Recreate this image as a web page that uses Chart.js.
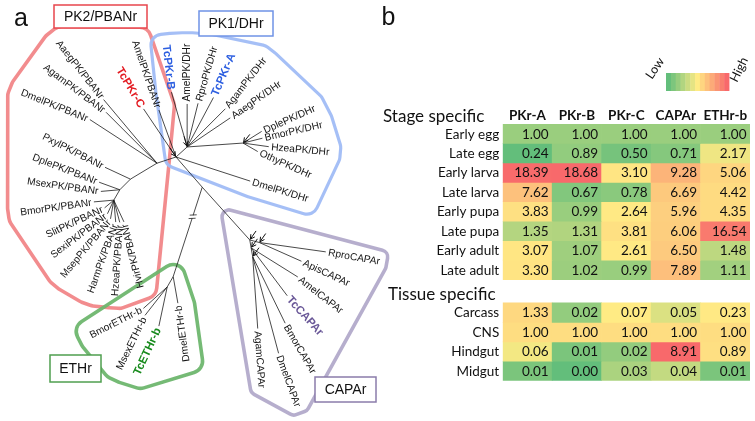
<!DOCTYPE html>
<html><head><meta charset="utf-8">
<script src="https://cdn.jsdelivr.net/npm/chart.js@4.4.0/dist/chart.umd.min.js"></script>
<style>
html,body{margin:0;padding:0;background:#fff;}
#wrap{position:relative;width:755px;height:421px;overflow:hidden;background:#fff;}
#tree{position:absolute;left:0;top:0;width:420px;height:421px;}
#heat{position:absolute;left:380px;top:0;width:375px;height:421px;}
</style></head><body>
<div id="wrap"><div id="tree"><canvas id="c1" width="420" height="421"></canvas></div><div id="heat"><canvas id="c2" width="375" height="421"></canvas></div></div>
<script>
// ================= DATA: heat map =================
const genes = ['PKr-A','PKr-B','PKr-C','CAPAr','ETHr-b'];
const stageRows = ['Early egg','Late egg','Early larva','Late larva','Early pupa','Late pupa','Early adult','Late adult'];
const tissueRows = ['Carcass','CNS','Hindgut','Midgut'];
const stageValues = [
 [1.00,1.00,1.00,1.00,1.00],
 [0.24,0.89,0.50,0.71,2.17],
 [18.39,18.68,3.10,9.28,5.06],
 [7.62,0.67,0.78,6.69,4.42],
 [3.83,0.99,2.64,5.96,4.35],
 [1.35,1.31,3.81,6.06,16.54],
 [3.07,1.07,2.61,6.50,1.48],
 [3.30,1.02,0.99,7.89,1.11]];
const tissueValues = [
 [1.33,0.02,0.07,0.05,0.23],
 [1.00,1.00,1.00,1.00,1.00],
 [0.06,0.01,0.02,8.91,0.89],
 [0.01,0.00,0.03,0.04,0.01]];

// ================= DATA: tree =================
const treeNodeNames   = ['J','P2','P1','K','Cm','C','C0','C2','C3','E','E2','L','Q1','Q2','N'];
const treeNodeParents = [null,'J','J','J','K','Cm','C','C','C2','K','E','P1','P2','Q1','Q2'];
const treeNodeAngles  = [0,162,-42,49,48,48,15,80,80,108,120,-4,149,135,120];
const treeNodeLengths = [0,20,15,40,40,31,10,8,9,94,12,56,31,15,12];

const tipNames = ['AmelPK/PBANr','TcPKr-C','AaegPK/PBANr','AgamPK/PBANr','DmelPK/PBANr','PxylPK/PBANr','DplePK/PBANr','MsexPK/PBANr','BmorPK/PBANr','SlitPK/PBANr','SexiPK/PBANr','MsepPK/PBANr','HarmPK/PBANr','HzeaPK/PBANr','HvirPK/PBANr',
 'TcPKr-B','AmelPK/DHr','RproPK/DHr','TcPKr-A','AgamPK/DHr','AaegPK/DHr','DplePK/DHr','BmorPK/DHr','HzeaPK/DHr','OthyPK/DHr','DmelPK/DHr',
 'BmorETHr-b','MsexETHr-b','TcETHr-b','DmelETHr-b',
 'RproCAPAr','ApisCAPAr','AmelCAPAr','TcCAPAr','BmorCAPAr','DmelCAPAr','AgamCAPAr'];
const tipParents = ['J','J','P2','P2','P2','Q1','Q2','Q2','N','N','N','N','N','N','N',
 'P1','P1','P1','P1','P1','P1','L','L','L','L','J',
 'E2','E2','E2','E',
 'C0','C0','C2','C2','C3','C3','C3'];
const tipAngles = [-110,-124,-130,-135,-147,-155,-160,175,175,140,115,100,85,75,65,
 -106,-90,-76,-62,-45,-34,-32,-14,8,30,18,
 138,128,102,80,
 8,24,32,53,64,75,86];
const tipLengths = [50,58,83,72,80,28,22,19,20,12,15,19,22,23,24,
 57,43,45,56,54,52,22,20,26,17,78,
 32,36,40,27,
 67,46,55,60,74,100,72];
const tipTextAngles = [71,59,52,37,22,27,21,8,-8,-25,-37,-50,-70,-86,-104,
 84,-90,-74,-67,-52,-35,-24,-13,5,24,17,
 -27,-64,-65,-98,
 10,25,38,48,60,70,86];
const tipClades = [0,0,0,0,0,0,0,0,0,0,0,0,0,0,0, 1,1,1,1,1,1,1,1,1,1,1, 2,2,2,2, 3,3,3,3,3,3,3];
const cladeNames = ['PK2/PBANr','PK1/DHr','ETHr','CAPAr'];
const cladeInnerNodes = [['P2','Q1','Q2','N'],['J','P1','L'],['E','E2'],['Cm','C','C0','C2','C3']];
const arrowNodes = ['J','P1','L','C','C0','C2','C3'];
const arrowDirs  = [56,74,128,125,125,125,125];

// ================= styling =================
const highlight = {'TcPKr-C':'#e31b22','TcPKr-B':'#2c5ee0','TcPKr-A':'#2c5ee0','TcETHr-b':'#178a1c','TcCAPAr':'#6a5898'};
const hullStyle = [
 {color:'rgba(240,120,122,0.85)', width:3.6, pad:12},
 {color:'rgba(160,188,245,0.95)', width:3.2, pad:11},
 {color:'rgba(110,182,110,0.95)', width:3.6, pad:12},
 {color:'rgba(178,170,202,0.95)', width:3.6, pad:7}];
const boxStyle = [
 {x:54,y:5,w:93,h:23,color:'#e8464c'},
 {x:199,y:11,w:74,h:25,color:'#6f93e6'},
 {x:50,y:355,w:51,h:27,color:'#4f9f4f'},
 {x:315,y:377,w:61,h:25,color:'#8b7cab'}];
const TREE_FONT = '"Liberation Sans", Arial, sans-serif';
const HEAT_FONT = 'Lato, "Open Sans", sans-serif';

// ================= tree geometry =================
const pos = {};
treeNodeNames.forEach((n,i)=>{
  const p = treeNodeParents[i];
  if(!p){pos[n]={x:0,y:0};return;}
  const a = treeNodeAngles[i]*Math.PI/180;
  pos[n] = {x:pos[p].x+treeNodeLengths[i]*Math.cos(a), y:pos[p].y+treeNodeLengths[i]*Math.sin(a)};
});
const tipPos = tipNames.map((n,i)=>{
  const p = pos[tipParents[i]], a = tipAngles[i]*Math.PI/180;
  return {x:p.x+tipLengths[i]*Math.cos(a), y:p.y+tipLengths[i]*Math.sin(a)};
});
const branchSets = [];
treeNodeNames.forEach((n,i)=>{ if(treeNodeParents[i]) branchSets.push([pos[treeNodeParents[i]], pos[n]]); });
tipNames.forEach((n,i)=> branchSets.push([pos[tipParents[i]], tipPos[i]]));

function labelInfo(ctx,i,tp){
  const name = tipNames[i], hl = highlight[name];
  const font = hl ? 'bold 11.5px '+TREE_FONT : '10.2px '+TREE_FONT;
  ctx.font = font;
  const w = ctx.measureText(name).width;
  const r = tipTextAngles[i]*Math.PI/180, o = tipAngles[i]*Math.PI/180;
  const dot = Math.cos(r)*Math.cos(o)+Math.sin(r)*Math.sin(o);
  const align = dot>=0 ? 'left':'right';
  const gap = 2.5;
  const s0 = align==='left' ? gap : -gap-w, s1 = s0+w;
  const u = {x:Math.cos(r),y:Math.sin(r)}, v = {x:-Math.sin(r),y:Math.cos(r)};
  const h = 4.5;
  const corners = [];
  [s0,s1].forEach(s=>[-h,h].forEach(t=>corners.push({x:tp.x+s*u.x+t*v.x, y:tp.y+s*u.y+t*v.y})));
  return {name,font,w,r,align,gap,color:hl||'#151515',corners};
}
function convexHull(pts){
  pts = pts.slice().sort((a,b)=>a.x-b.x||a.y-b.y);
  const cross=(o,a,b)=>(a.x-o.x)*(b.y-o.y)-(a.y-o.y)*(b.x-o.x);
  const lower=[];for(const p of pts){while(lower.length>=2&&cross(lower[lower.length-2],lower[lower.length-1],p)<=0)lower.pop();lower.push(p);}
  const upper=[];for(const p of pts.slice().reverse()){while(upper.length>=2&&cross(upper[upper.length-2],upper[upper.length-1],p)<=0)upper.pop();upper.push(p);}
  upper.pop();lower.pop();
  let h = lower.concat(upper);
  let area=0;for(let i=0;i<h.length;i++){const a=h[i],b=h[(i+1)%h.length];area+=a.x*b.y-b.x*a.y;}
  if(area<0) h.reverse();
  return h;
}
function roundedHull(ctx,h,r){
  const n=h.length; ctx.beginPath();
  for(let i=0;i<n;i++){
    const prev=h[(i-1+n)%n], cur=h[i], next=h[(i+1)%n];
    const a1=Math.atan2(-(cur.x-prev.x), cur.y-prev.y);
    const a2=Math.atan2(-(next.x-cur.x), next.y-cur.y);
    ctx.arc(cur.x,cur.y,r,a1,a2,false);
  }
  ctx.closePath();
}

const treePlugin = {
  id:'treeDecor',
  beforeDatasetsDraw(chart){
    const ctx=chart.ctx, xs=chart.scales.x, ys=chart.scales.y;
    const P = p=>({x:xs.getPixelForValue(p.x), y:ys.getPixelForValue(p.y)});
    ctx.save();
    cladeNames.forEach((c,ci)=>{
      const pts=[];
      tipNames.forEach((n,i)=>{ if(tipClades[i]!==ci) return; const tp=P(tipPos[i]); pts.push(tp); labelInfo(ctx,i,tp).corners.forEach(q=>pts.push(q)); });
      cladeInnerNodes[ci].forEach(n=>pts.push(P(pos[n])));
      const h=convexHull(pts);
      roundedHull(ctx,h,hullStyle[ci].pad);
      ctx.strokeStyle=hullStyle[ci].color; ctx.lineWidth=hullStyle[ci].width; ctx.lineJoin='round';
      ctx.stroke();
    });
    ctx.restore();
  },
  afterDatasetsDraw(chart){
    const ctx=chart.ctx, xs=chart.scales.x, ys=chart.scales.y;
    const P = p=>({x:xs.getPixelForValue(p.x), y:ys.getPixelForValue(p.y)});
    ctx.save();
    // break mark on the K-E branch
    const k=P(pos.K), e=P(pos.E), t=0.33;
    const m={x:k.x+(e.x-k.x)*t, y:k.y+(e.y-k.y)*t};
    const ba=Math.atan2(e.y-k.y,e.x-k.x);
    const bu={x:Math.cos(ba),y:Math.sin(ba)};
    ctx.strokeStyle='#fff'; ctx.lineWidth=2.5;
    ctx.beginPath(); ctx.moveTo(m.x-bu.x*1.5,m.y-bu.y*1.5); ctx.lineTo(m.x+bu.x*1.5,m.y+bu.y*1.5); ctx.stroke();
    ctx.strokeStyle='#222'; ctx.lineWidth=0.8;
    [-1.8,1.8].forEach(off=>{
      const c={x:m.x+bu.x*off,y:m.y+bu.y*off}, ta=ba+Math.PI/2.6;
      ctx.beginPath(); ctx.moveTo(c.x-Math.cos(ta)*3.5,c.y-Math.sin(ta)*3.5); ctx.lineTo(c.x+Math.cos(ta)*3.5,c.y+Math.sin(ta)*3.5); ctx.stroke();
    });
    // arrows
    arrowNodes.forEach((n,i)=>{
      const hp=P(pos[n]), a=arrowDirs[i]*Math.PI/180;
      const head={x:hp.x-Math.cos(a)*1, y:hp.y-Math.sin(a)*1};
      const tail={x:head.x-Math.cos(a)*10, y:head.y-Math.sin(a)*10};
      ctx.strokeStyle='#111'; ctx.lineWidth=1;
      ctx.beginPath(); ctx.moveTo(tail.x,tail.y); ctx.lineTo(head.x,head.y); ctx.stroke();
      ctx.beginPath();
      [0.5,-0.5].forEach(d=>{ctx.moveTo(head.x,head.y); ctx.lineTo(head.x-Math.cos(a+d)*5, head.y-Math.sin(a+d)*5);});
      ctx.stroke();
    });
    // tip labels
    tipNames.forEach((n,i)=>{
      const tp=P(tipPos[i]); const L=labelInfo(ctx,i,tp);
      ctx.save(); ctx.translate(tp.x,tp.y); ctx.rotate(L.r);
      ctx.font=L.font; ctx.fillStyle=L.color; ctx.textAlign=L.align; ctx.textBaseline='middle';
      ctx.fillText(n, L.align==='left'?L.gap:-L.gap, 0.5);
      ctx.restore();
    });
    // clade boxes
    cladeNames.forEach((c,ci)=>{
      const b=boxStyle[ci];
      ctx.fillStyle='#fff'; ctx.fillRect(b.x,b.y,b.w,b.h);
      ctx.strokeStyle=b.color; ctx.lineWidth=1.5; ctx.strokeRect(b.x,b.y,b.w,b.h);
      ctx.fillStyle='#111'; ctx.font='14px '+TREE_FONT; ctx.textAlign='center'; ctx.textBaseline='middle';
      ctx.fillText(c, b.x+b.w/2, b.y+b.h/2+1);
    });
    // panel letter
    ctx.font='25px '+TREE_FONT; ctx.fillStyle='#111'; ctx.textAlign='left'; ctx.textBaseline='alphabetic';
    ctx.fillText('a', 14, 26);
    ctx.restore();
  }
};

new Chart(document.getElementById('c1'), {
  type:'scatter',
  data:{datasets: branchSets.map(seg=>({data:[{x:seg[0].x,y:seg[0].y},{x:seg[1].x,y:seg[1].y}], showLine:true, borderColor:'#1c1c1c', borderWidth:0.8, pointRadius:0, pointHoverRadius:0, fill:false}))},
  options:{
    responsive:false, animation:false, events:[],
    layout:{padding:0},
    plugins:{legend:{display:false}, tooltip:{enabled:false}},
    scales:{
      x:{type:'linear', min:-176, max:244, display:false},
      y:{type:'linear', min:-157, max:264, reverse:true, display:false}
    }
  },
  plugins:[treePlugin]
});

// ================= heat map =================
const GREEN=[99,190,123], YELLOW=[255,235,132], RED=[248,105,107];
function mix(a,b,t){return 'rgb('+a.map((c,i)=>Math.round(c+(b[i]-c)*t)).join(',')+')';}
function blockColors(values){
  const flat=values.flat().slice().sort((a,b)=>a-b);
  const n=flat.length, p=(n-1)*0.5;
  const mid=(flat[Math.floor(p)]+flat[Math.ceil(p)])/2, min=flat[0], max=flat[n-1];
  return values.map(row=>row.map(v=> v<=mid ? mix(GREEN,YELLOW,(v-min)/(mid-min)) : mix(YELLOW,RED,(v-mid)/(max-mid))));
}
const rowLabels = stageRows.concat(tissueRows);
const rowValues = stageValues.concat(tissueValues);
const rowColors = blockColors(stageValues).concat(blockColors(tissueValues));
const BLOCK_GAP = 1.2;
const rowTop = rowLabels.map((_,i)=> i<stageRows.length ? i : i+BLOCK_GAP);

const heatPlugin = {
  id:'heatText',
  afterDatasetsDraw(chart){
    const ctx=chart.ctx, xs=chart.scales.x;
    ctx.save();
    ctx.fillStyle='#111'; ctx.textBaseline='alphabetic';
    chart.data.datasets.forEach((ds,di)=>{
      const meta=chart.getDatasetMeta(di);
      let mid=0;
      meta.data.forEach((bar,i)=>{
        const pr=bar.getProps(['x','y','base','width'],true);
        mid=(pr.y+pr.base)/2;
        ctx.font='13.5px '+HEAT_FONT; ctx.textAlign='right';
        ctx.fillText(ds.vals[i].toFixed(2), pr.x+pr.width/2-3.5, mid+4.8);
      });
      ctx.font='13.5px '+HEAT_FONT; ctx.textAlign='right';
      ctx.fillText(ds.label, xs.left-3.5, mid+4.8);
    });
    ctx.font='bold 13.5px '+HEAT_FONT; ctx.textAlign='center';
    genes.forEach((g,i)=>ctx.fillText(g, xs.getPixelForValue(i), 119.5));
    ctx.font='17px '+HEAT_FONT; ctx.textAlign='left';
    ctx.fillText('Stage specific', 3, 122);
    ctx.fillText('Tissue specific', 8, 300);
    ctx.font='25px '+TREE_FONT;
    ctx.fillText('b', 1.5, 25);
    // legend bar
    const lx=286, ly=73, lw=63, lh=18, steps=13;
    for(let s=0;s<steps;s++){
      const t=s/(steps-1);
      ctx.fillStyle = t<=0.5 ? mix(GREEN,YELLOW,t*2) : mix(YELLOW,RED,(t-0.5)*2);
      ctx.fillRect(lx+s*lw/steps, ly, lw/steps+0.4, lh);
    }
    ctx.fillStyle='#111'; ctx.font='12.5px '+HEAT_FONT;
    ctx.save(); ctx.translate(272,80); ctx.rotate(-56*Math.PI/180); ctx.textAlign='left'; ctx.fillText('Low',0,0); ctx.restore();
    ctx.save(); ctx.translate(357,83); ctx.rotate(-64*Math.PI/180); ctx.textAlign='left'; ctx.fillText('High',0,0); ctx.restore();
    ctx.restore();
  }
};

new Chart(document.getElementById('c2'), {
  type:'bar',
  data:{
    labels: genes,
    datasets: rowLabels.map((lab,i)=>({
      label: lab,
      data: genes.map(()=>[rowTop[i], rowTop[i]+1]),
      backgroundColor: rowColors[i],
      vals: rowValues[i],
      grouped:false, barPercentage:1, categoryPercentage:1, borderWidth:0
    }))
  },
  options:{
    responsive:false, animation:false, events:[],
    layout:{padding:{left:122.7, right:5, top:124, bottom:40.3}},
    plugins:{legend:{display:false}, tooltip:{enabled:false}},
    scales:{
      x:{display:false, offset:true},
      y:{type:'linear', min:0, max:stageRows.length+BLOCK_GAP+tissueRows.length, reverse:true, display:false}
    }
  },
  plugins:[heatPlugin]
});
</script>
</body></html>
